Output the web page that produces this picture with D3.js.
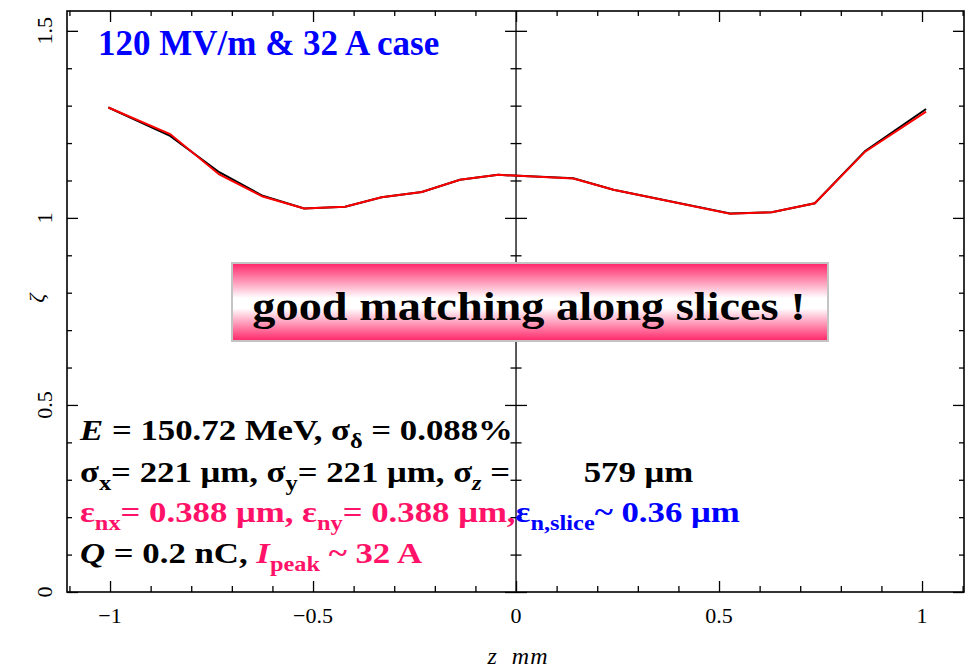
<!DOCTYPE html>
<html>
<head>
<meta charset="utf-8">
<script src="https://cdn.jsdelivr.net/npm/d3@7"></script>
<style>
  body { margin: 0; background: #fff; }
  svg { display: block; }
</style>
</head>
<body>
<svg id="chart"></svg>
<script>
// slice positions (mm) and matching parameter for the two runs
const zSlices = [-1.004, -0.852, -0.731, -0.624, -0.522, -0.421, -0.331, -0.232, -0.138, -0.044, 0.141, 0.240, 0.527, 0.630, 0.736, 0.860, 1.010];
const zetaBlack = [1.295, 1.219, 1.122, 1.059, 1.025, 1.030, 1.055, 1.069, 1.102, 1.115, 1.106, 1.075, 1.012, 1.015, 1.039, 1.179, 1.291];
const zetaRed = [1.295, 1.224, 1.116, 1.057, 1.025, 1.030, 1.055, 1.069, 1.102, 1.115, 1.105, 1.075, 1.011, 1.015, 1.039, 1.177, 1.284];

const xMajorTicks = [-1, -0.5, 0, 0.5, 1];
const yMajorTicks = [0, 0.5, 1, 1.5];

const width = 966, height = 669;
const plotLeft = 67, plotRight = 964, plotTop = 11, plotBottom = 592;
const pink = "#ff1268";
const serif = "'Liberation Serif', 'Times New Roman', serif";

const svg = d3.select("#chart")
  .attr("width", width)
  .attr("height", height);

// scales
const xScale = d3.scaleLinear().domain([-1.106, 1.1034]).range([plotLeft, plotRight]);
const yScale = d3.scaleLinear().domain([0, 1.553]).range([plotBottom, plotTop]);

const xMinor = d3.range(-11, 12).map(d => d / 10).filter(d => !xMajorTicks.some(m => Math.abs(m - d) < 1e-9));
const yMinor = d3.range(0, 16).map(d => d / 10).filter(d => !yMajorTicks.some(m => Math.abs(m - d) < 1e-9));

// axes, ticks pointing inward
const drawAxis = (axisFn, scale, translate, values, size) => {
  const g = svg.append("g")
    .attr("transform", translate)
    .call(axisFn(scale).tickValues(values).tickSize(size).tickFormat(""));
  g.select("path.domain").remove();
  g.selectAll("line").attr("stroke", "#000").attr("stroke-width", 1.3);
  return g;
};

drawAxis(d3.axisBottom, xScale, `translate(0,${plotBottom})`, xMajorTicks, -11);
drawAxis(d3.axisBottom, xScale, `translate(0,${plotBottom})`, xMinor, -6);
drawAxis(d3.axisTop, xScale, `translate(0,${plotTop})`, xMajorTicks, -11);
drawAxis(d3.axisTop, xScale, `translate(0,${plotTop})`, xMinor, -5);
drawAxis(d3.axisLeft, yScale, `translate(${plotLeft},0)`, yMajorTicks, -11);
drawAxis(d3.axisLeft, yScale, `translate(${plotLeft},0)`, yMinor, -5);
drawAxis(d3.axisRight, yScale, `translate(${plotRight},0)`, yMajorTicks, -11);
drawAxis(d3.axisRight, yScale, `translate(${plotRight},0)`, yMinor, -5);

// centre line at z = 0 with ticks on both sides
const x0 = xScale(0);
drawAxis(d3.axisLeft, yScale, `translate(${x0},0)`, yMajorTicks, 11);
drawAxis(d3.axisRight, yScale, `translate(${x0},0)`, yMajorTicks, 11);
drawAxis(d3.axisLeft, yScale, `translate(${x0},0)`, yMinor, 5.5);
drawAxis(d3.axisRight, yScale, `translate(${x0},0)`, yMinor, 5.5);
svg.append("line")
  .attr("x1", x0).attr("x2", x0)
  .attr("y1", plotTop).attr("y2", plotBottom)
  .attr("stroke", "#000").attr("stroke-width", 1.3);

// frame
svg.append("rect")
  .attr("x", plotLeft).attr("y", plotTop)
  .attr("width", plotRight - plotLeft).attr("height", plotBottom - plotTop)
  .attr("fill", "none").attr("stroke", "#000").attr("stroke-width", 1.6);

// tick labels
svg.append("g")
  .selectAll("text")
  .data(xMajorTicks)
  .join("text")
  .attr("x", d => xScale(d))
  .attr("y", plotBottom + 31)
  .attr("text-anchor", "middle")
  .style("font-family", serif)
  .style("font-size", "22px")
  .text(d => d3.format("")(d).replace("-", "\u2212"));

svg.append("g")
  .selectAll("text")
  .data(yMajorTicks)
  .join("text")
  .attr("transform", d => `translate(52,${yScale(d)}) rotate(-90)`)
  .attr("text-anchor", "middle")
  .style("font-family", serif)
  .style("font-size", "22px")
  .text(d => d3.format("")(d));

// axis titles
svg.append("text")
  .attr("transform", `translate(44,${yScale(0.785)}) rotate(-90)`)
  .attr("text-anchor", "middle")
  .style("font-family", serif)
  .style("font-style", "italic")
  .style("font-size", "22px")
  .text("\u03b6");

svg.append("text")
  .attr("x", x0 + 2)
  .attr("y", 664)
  .attr("text-anchor", "middle")
  .style("font-family", serif)
  .style("font-style", "italic")
  .style("font-size", "24px")
  .style("letter-spacing", "1px")
  .attr("xml:space", "preserve")
  .text("z  mm");

// curves, red drawn over black
const line = (values) => d3.line()
  .x((d, i) => xScale(zSlices[i]))
  .y(d => yScale(d))(values);

svg.append("path")
  .attr("d", line(zetaBlack))
  .attr("fill", "none")
  .attr("stroke", "#000")
  .attr("stroke-width", 2);

svg.append("path")
  .attr("d", line(zetaRed))
  .attr("fill", "none")
  .attr("stroke", "#ff0000")
  .attr("stroke-width", 2);

// title
svg.append("text")
  .attr("x", 98)
  .attr("y", 55)
  .attr("fill", "#0000ff")
  .style("font-family", serif)
  .style("font-weight", "bold")
  .style("font-size", "35px")
  .text("120 MV/m & 32 A case");

// banner with pink-white-pink gradient
const grad = svg.append("defs")
  .append("linearGradient")
  .attr("id", "bannerGrad")
  .attr("x1", 0).attr("y1", 0).attr("x2", 0).attr("y2", 1);
grad.append("stop").attr("offset", "0%").attr("stop-color", "#ff2468");
grad.append("stop").attr("offset", "45%").attr("stop-color", "#ffffff");
grad.append("stop").attr("offset", "58%").attr("stop-color", "#ffffff");
grad.append("stop").attr("offset", "100%").attr("stop-color", "#ff2468");

svg.append("rect")
  .attr("x", 232).attr("y", 263)
  .attr("width", 596).attr("height", 78)
  .attr("fill", "url(#bannerGrad)")
  .attr("stroke", "#c4c4c4")
  .attr("stroke-width", 2);

// the lettering in the source is a little wider than Times, so stretch it
svg.append("text")
  .attr("transform", "translate(529,320) scale(1.13,1)")
  .attr("text-anchor", "middle")
  .style("font-family", serif)
  .style("font-weight", "bold")
  .style("font-size", "41px")
  .text("good matching along slices !");

// beam parameter block
const block = [
  [
    { t: "E", i: true }, { t: " = 150.72 MeV, \u03c3" }, { t: "\u03b4", sub: true }, { t: " = 0.088%" }
  ],
  [
    { t: "\u03c3" }, { t: "x", sub: true }, { t: "= 221 \u03bcm, \u03c3" }, { t: "y", sub: true },
    { t: "= 221 \u03bcm, \u03c3" }, { t: "z", sub: true, i: true }, { t: " =" }, { t: " 579 \u03bcm", dx: 56 }
  ],
  [
    { t: "\u03b5", c: pink }, { t: "nx", sub: true, c: pink }, { t: "= 0.388 \u03bcm, \u03b5", c: pink },
    { t: "ny", sub: true, c: pink }, { t: "= 0.388 \u03bcm,", c: pink },
    { t: "\u03b5", c: "#0000ff" }, { t: "n,slice", sub: true, c: "#0000ff" }, { t: "~ 0.36 \u03bcm", c: "#0000ff" }
  ],
  [
    { t: "Q", i: true }, { t: " = 0.2 nC, " }, { t: "I", i: true, c: pink }, { t: "peak", sub: true, c: pink },
    { t: " ~ 32 A", c: pink }
  ]
];
const blockBaselines = [440, 482, 522, 563];

block.forEach((parts, li) => {
  const txt = svg.append("text")
    .attr("transform", `translate(80,${blockBaselines[li]}) scale(1.16,1)`)
    .attr("xml:space", "preserve")
    .style("font-family", serif)
    .style("font-weight", "bold")
    .style("font-size", "30px");
  let shifted = false;
  parts.forEach(p => {
    const ts = txt.append("tspan")
      .attr("fill", p.c || "#000")
      .text(p.t);
    if (p.i) ts.style("font-style", "italic");
    if (p.dx) ts.attr("dx", p.dx);
    if (p.sub) {
      ts.style("font-size", "21px");
      if (!shifted) ts.attr("dy", 8);
      shifted = true;
    } else if (shifted) {
      ts.attr("dy", -8);
      shifted = false;
    }
  });
});
</script>
</body>
</html>
